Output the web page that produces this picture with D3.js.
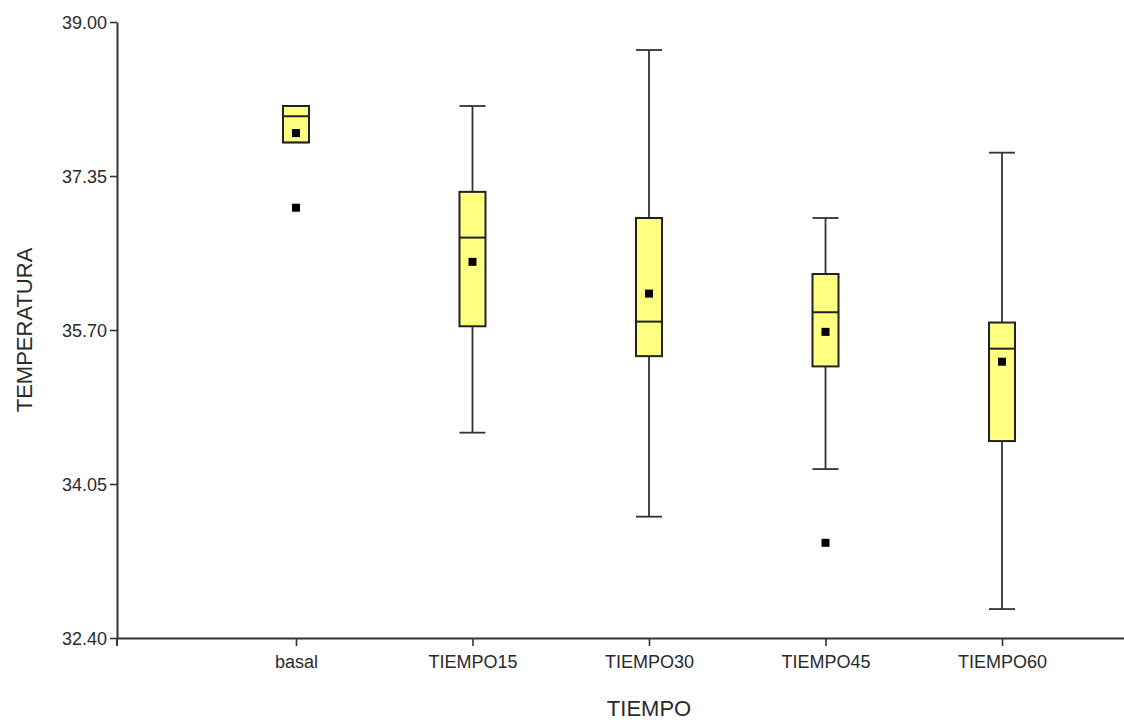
<!DOCTYPE html>
<html>
<head>
<meta charset="utf-8">
<script src="https://cdn.jsdelivr.net/npm/d3@7"></script>
<style>
  html, body { margin: 0; padding: 0; background: #fff; }
  svg { display: block; }
  .tick text { font-family: "Liberation Sans", Arial, sans-serif; font-size: 18px; fill: #2a2a2a; }
</style>
</head>
<body>
<svg id="chart" width="1124" height="722"></svg>
<script>
// Temperature by time point: box summaries
const categories = ["basal", "TIEMPO15", "TIEMPO30", "TIEMPO45", "TIEMPO60"];
const whiskerLow  = [37.71, 34.60, 33.70, 34.21, 32.71];
const q1          = [37.71, 35.74, 35.42, 35.31, 34.51];
const medians     = [37.99, 36.69, 35.79, 35.89, 35.50];
const q3          = [38.10, 37.18, 36.90, 36.30, 35.78];
const whiskerHigh = [38.10, 38.10, 38.70, 36.90, 37.60];
const means       = [37.81, 36.43, 36.09, 35.68, 35.36];
const outlierCats = ["basal", "TIEMPO45"];
const outlierVals = [37.01, 33.42];
const yTicks = [32.40, 34.05, 35.70, 37.35, 39.00];

const svg = d3.select("#chart");
const plotLeft = 117, plotRight = 1181, plotTop = 22, plotBottom = 638;

const x = d3.scalePoint().domain(categories).range([plotLeft, plotRight]).padding(1.014);
const y = d3.scaleLinear().domain([32.40, 39.00]).range([plotBottom, plotTop]);

const lineColor = "#333";
const boxW = 26, capW = 26, markS = 8;

// Axes
const yAxis = svg.append("g")
  .attr("transform", `translate(${plotLeft},0)`)
  .call(d3.axisLeft(y).tickValues(yTicks).tickFormat(d3.format(".2f")).tickSize(7).tickSizeOuter(0).tickPadding(3));
yAxis.select(".domain").attr("stroke", lineColor).attr("stroke-width", 2);
yAxis.selectAll(".tick line").attr("stroke", lineColor).attr("stroke-width", 1.6);
yAxis.selectAll(".tick text").attr("dy", "0.35em");

const xAxis = svg.append("g")
  .attr("transform", `translate(0,${plotBottom})`)
  .call(d3.axisBottom(x).tickSize(8).tickSizeOuter(0).tickPadding(9));
xAxis.select(".domain").attr("stroke", lineColor).attr("stroke-width", 2);
xAxis.selectAll(".tick line").attr("stroke", lineColor).attr("stroke-width", 1.6);

// small extension of the vertical axis below the baseline
svg.append("line")
  .attr("x1", plotLeft).attr("x2", plotLeft)
  .attr("y1", plotBottom).attr("y2", plotBottom + 8)
  .attr("stroke", lineColor).attr("stroke-width", 2);

// Axis titles
svg.append("text")
  .attr("x", 649).attr("y", 716)
  .attr("text-anchor", "middle")
  .style("font-family", "'Liberation Sans', Arial, sans-serif")
  .style("font-size", "22px").style("fill", "#2a2a2a")
  .text("TIEMPO");

svg.append("text")
  .attr("transform", `translate(32,${(plotTop + plotBottom) / 2}) rotate(-90)`)
  .attr("text-anchor", "middle")
  .style("font-family", "'Liberation Sans', Arial, sans-serif")
  .style("font-size", "22px").style("fill", "#2a2a2a")
  .text("TEMPERATURA");

// Boxes
const data = categories.map((c, i) => ({
  cat: c, lo: whiskerLow[i], q1: q1[i], med: medians[i], q3: q3[i], hi: whiskerHigh[i], mean: means[i]
}));

const g = svg.append("g");
const box = g.selectAll("g.box").data(data).join("g").attr("class", "box");

// whisker stems
box.append("line")
  .attr("x1", d => x(d.cat)).attr("x2", d => x(d.cat))
  .attr("y1", d => y(d.hi)).attr("y2", d => y(d.q3))
  .attr("stroke", lineColor).attr("stroke-width", 1.8);
box.append("line")
  .attr("x1", d => x(d.cat)).attr("x2", d => x(d.cat))
  .attr("y1", d => y(d.q1)).attr("y2", d => y(d.lo))
  .attr("stroke", lineColor).attr("stroke-width", 1.8);
// whisker caps
box.append("line")
  .attr("x1", d => x(d.cat) - capW / 2).attr("x2", d => x(d.cat) + capW / 2)
  .attr("y1", d => y(d.hi)).attr("y2", d => y(d.hi))
  .attr("stroke", lineColor).attr("stroke-width", 1.8);
box.append("line")
  .attr("x1", d => x(d.cat) - capW / 2).attr("x2", d => x(d.cat) + capW / 2)
  .attr("y1", d => y(d.lo)).attr("y2", d => y(d.lo))
  .attr("stroke", lineColor).attr("stroke-width", 1.8);
// box
box.append("rect")
  .attr("x", d => x(d.cat) - boxW / 2).attr("width", boxW)
  .attr("y", d => y(d.q3)).attr("height", d => y(d.q1) - y(d.q3))
  .attr("fill", "#ffff80").attr("stroke", "#222").attr("stroke-width", 2);
// median
box.append("line")
  .attr("x1", d => x(d.cat) - boxW / 2).attr("x2", d => x(d.cat) + boxW / 2)
  .attr("y1", d => y(d.med)).attr("y2", d => y(d.med))
  .attr("stroke", "#222").attr("stroke-width", 2);
// mean
box.append("rect")
  .attr("x", d => x(d.cat) - markS / 2).attr("y", d => y(d.mean) - markS / 2)
  .attr("width", markS).attr("height", markS)
  .attr("fill", "#000");

// Outliers
g.selectAll("rect.out").data(outlierCats.map((c, i) => ({ cat: c, v: outlierVals[i] })))
  .join("rect").attr("class", "out")
  .attr("x", d => x(d.cat) - markS / 2).attr("y", d => y(d.v) - markS / 2)
  .attr("width", markS).attr("height", markS)
  .attr("fill", "#000");
</script>
</body>
</html>
